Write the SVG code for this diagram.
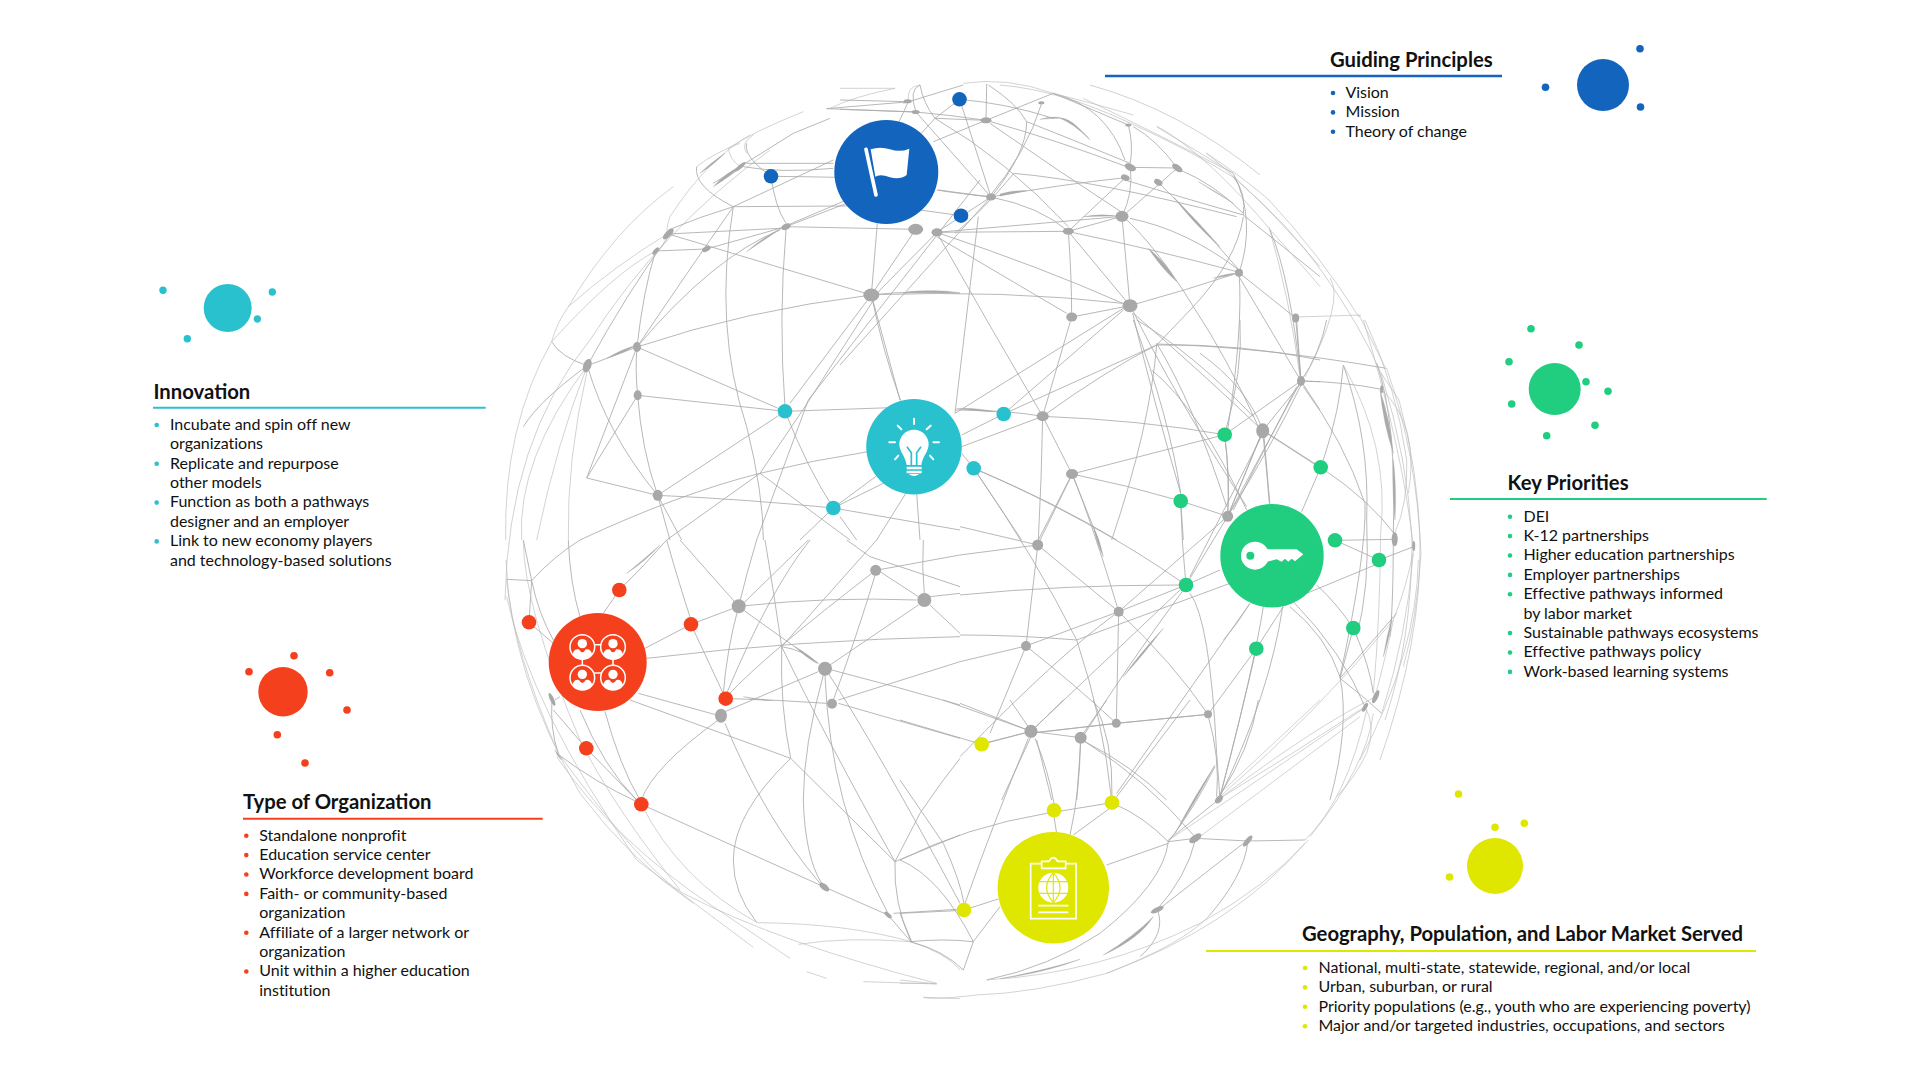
<svg xmlns="http://www.w3.org/2000/svg" width="1920" height="1080" viewBox="0 0 1920 1080">
<style>
text{font-family:"Lato","Liberation Sans",sans-serif;fill:#111}
.h{font-size:20.3px;font-weight:700}
.b{font-size:16px;letter-spacing:-.03px}
#connectors path{fill:none;stroke:#aaa;stroke-width:2.5}
#connectors path.o{stroke:#bdbdbd;stroke-width:2}
#connectors path.s{fill:#aaa;stroke:#aaa;stroke-width:1}
#connectors #outer path{stroke:#bdbdbd;stroke-width:.7}
.g{fill:#a8a8a8}
.ic{fill:#fff}
.is{fill:none;stroke:#fff;stroke-linecap:round}
.blue{fill:#1264bd}.teal{fill:#2ac1cf}.green{fill:#21ce80}.red{fill:#f4401d}.yellow{fill:#dfe600}
.rb{stroke:#1264bd}.rt{stroke:#2ac1cf}.rg{stroke:#21ce80}.rr{stroke:#f4401d}.ry{stroke:#dfe600}
</style>
<rect width="1920" height="1080" fill="#fff"/>
<g id="connectors">
<g id="outer">
<path d="M1000 85Q1060 90 1130 123Q1190 150 1233 177Q1290 225 1323 273Q1360 325 1381 373L1399 400"/><path d="M1157 127L1233 173"/><path d="M1206 153Q1240 175 1269 200Q1320 255 1359 317"/><path d="M1359 315L1385 367"/><path d="M1296 317L1361 315"/><path d="M1330 278Q1345 300 1305 377"/><path d="M1269 227Q1290 300 1300 377"/><path d="M1399 400Q1418 470 1420 540Q1422 640 1380 760"/><path d="M1381 373Q1408 460 1412 540Q1412 640 1385 720"/><path d="M1090 85Q1180 110 1260 175"/>
<path d="M505 600Q508 440 590 340Q660 230 770 150"/>
</g>
<g transform="translate(480 60) scale(.33333)">
<path d="M1174 705Q800 750 471 861L322 917"/><path d="M1174 705Q1300 690 1440 700"/><path d="M565 522L1174 705"/><path d="M918 500L1307 508"/><path d="M679 567L918 500"/><path d="M527 573L679 567"/><path d="M918 500L1100 430"/><path d="M1174 705L1307 508"/><path d="M1174 705L1192 490"/><path d="M1174 705L930 1030"/><path d="M1371 517L1200 690L975 1040L840 1240L560 1440"/><path d="M840 1240L1110 1440"/><path d="M1500 360L985 1020L830 1440"/><path d="M918 510Q895 780 915 1040"/><path d="M471 861L915 1054"/><path d="M473 1006L915 1054"/><path d="M915 1054L1260 1042"/><path d="M1174 705Q1210 880 1262 1022"/><path d="M915 1054Q985 1230 1060 1344"/><path d="M915 1054L533 1306"/><path d="M533 1306Q800 1318 1060 1344"/><path d="M473 1006L320 1254L533 1306"/><path d="M320 1254L471 861"/><path d="M473 1006Q485 1170 533 1306L570 1440"/><path d="M322 917Q380 1120 533 1306L605 1440"/><path d="M471 861Q465 930 473 1006"/><path d="M471 861Q490 690 527 573"/><path d="M471 861Q700 590 900 510"/><path d="M471 861Q620 640 760 440L1060 300"/><path d="M322 917Q440 700 565 530"/><path d="M760 440Q700 800 800 1100Q850 1300 850 1440"/><path d="M565 510Q660 470 760 440L1100 438"/><path d="M650 320Q640 380 760 440"/><path d="M800 250Q790 290 873 349Q885 440 918 490"/><path d="M873 349Q980 350 1070 352"/><path d="M1165 1175Q1000 1200 840 1240Q600 1300 300 1440"/><path d="M1060 1344L1200 1240"/><path d="M1060 1344L1220 1265"/><path d="M1060 1344L960 1440"/><path d="M1290 1280L1190 1440"/><path d="M1310 1300L1320 1440"/><path d="M1060 1344L1440 1410"/><path d="M1080 1370L1130 1440"/><path d="M322 917Q180 1020 130 1100"/><path d="M215 845Q240 890 322 917"/>
<path d="M565 522L900 505L1100 420"/><path d="M800 310L1060 310"/><path d="M790 320Q900 340 1060 325"/><path d="M700 370L940 220L1050 175"/><path d="M1040 146L1290 125"/><path d="M1040 146L1307 156"/>
<path class="o" d="M1245 85Q1120 110 1050 145"/><path class="o" d="M970 155Q820 215 745 265"/><path class="o" d="M820 225Q780 250 800 280"/><path class="o" d="M745 265Q750 300 781 320"/><path class="o" d="M650 320Q700 280 780 250"/><path class="o" d="M580 380Q400 510 265 740Q230 790 215 845"/><path class="o" d="M810 225Q680 300 570 470Q555 510 565 530"/><path class="o" d="M77 1440Q70 1100 215 845"/><path class="o" d="M125 1440Q110 1200 322 917"/><path class="o" d="M170 1440Q230 1150 322 917"/><path class="o" d="M265 1440Q260 1200 322 930"/><path class="o" d="M1320 75Q1280 80 1285 120"/><path class="o" d="M215 845Q400 640 527 573"/><path class="o" d="M265 740Q400 620 565 520"/>
<path class="s" d="M800 575Q850 530 905 505Q860 535 800 575Z"/><path class="s" d="M700 380Q740 335 790 315Q750 350 700 380Z"/><path class="s" d="M380 895Q420 870 470 855Q430 880 380 895Z"/><path class="s" d="M660 340Q690 310 735 280Q700 315 660 340Z"/><path class="s" d="M1270 700Q1360 685 1440 698Q1360 695 1270 700Z"/>
</g>
<g transform="translate(840 60) scale(.33333)">
<path d="M94 704Q500 690 848 730"/><path d="M290 517Q600 620 848 730"/><path d="M290 530L680 760"/><path d="M695 771L870 737"/><path d="M695 771L608 1069"/><path d="M850 750L491 1062L365 1125"/><path d="M345 1060L850 745"/><path d="M491 1062L950 855"/><path d="M950 855Q1200 850 1440 900"/><path d="M950 855Q800 930 608 1069L365 1160"/><path d="M870 737Q1040 690 1197 638"/><path d="M1210 470Q1190 600 1060 740L950 855Q930 1100 815 1440"/><path d="M1197 638Q1210 800 1163 1110"/><path d="M1197 638L1367 774L1383 963"/><path d="M1197 650L1383 963"/><path d="M880 760Q1100 950 1268 1112"/><path d="M880 755Q1000 1000 1220 1340"/><path d="M878 760Q940 1020 1022 1300"/><path d="M846 469L870 737"/><path d="M453 411Q600 440 685 514"/><path d="M685 514L846 469"/><path d="M685 514L856 353"/><path d="M685 514Q695 650 695 771"/><path d="M685 514L870 737"/><path d="M290 517L685 514"/><path d="M290 517L846 469"/><path d="M453 411Q650 375 856 353"/><path d="M359 118L453 411"/><path d="M295 390L453 411"/><path d="M453 411L290 517"/><path d="M240 450L363 467"/><path d="M453 411L0 915"/><path d="M438 181L280 245"/><path d="M359 118L285 175L180 290"/><path d="M240 75Q250 130 285 175Q500 300 685 500"/><path d="M228 156L453 411"/><path d="M450 190Q650 330 850 460"/><path d="M438 181Q650 240 860 320"/><path d="M445 75Q530 130 560 185Q560 280 453 411"/><path d="M605 130Q560 280 440 420"/><path d="M520 340Q760 360 1190 470"/><path d="M640 100Q800 140 855 300"/><path d="M871 322L1012 324"/><path d="M1012 324L860 458"/><path d="M871 322Q880 400 846 469"/><path d="M865 195Q880 250 871 310"/><path d="M1012 324Q950 240 880 200"/><path d="M1180 340Q1250 480 1197 640"/><path d="M1180 350Q1220 400 1210 465"/><path d="M855 360Q1050 420 1210 465"/><path d="M870 475Q1040 510 1197 630"/><path d="M700 518Q950 570 1190 635"/><path d="M955 367Q1060 470 1197 630"/><path d="M850 470Q950 560 1060 740Q1160 890 1260 1110"/><path d="M1020 330Q1120 370 1210 460"/><path d="M1210 465Q1330 560 1440 650"/><path d="M1290 510Q1350 650 1383 963"/><path d="M1383 963L1154 1124"/><path d="M1383 963L1440 965"/><path d="M1383 963L1440 1050"/><path d="M1383 975Q1300 1150 1163 1369"/><path d="M1268 1112L1163 1369"/><path d="M1268 1112Q1280 1230 1288 1330"/><path d="M1268 1112L1438 1222"/><path d="M608 1069Q900 1080 1154 1124"/><path d="M608 1069L696 1242"/><path d="M608 1069Q605 1250 595 1440"/><path d="M696 1242L595 1440"/><path d="M696 1242Q740 1350 775 1440"/><path d="M696 1242Q860 1275 1022 1323"/><path d="M696 1242L1154 1124"/><path d="M1154 1124Q1170 1250 1163 1369"/><path d="M1022 1323L1163 1369"/><path d="M1022 1323L1030 1440"/><path d="M290 517Q450 800 608 1069"/><path d="M94 704L180 1020"/><path d="M415 470L345 1060"/><path d="M345 1050Q500 1050 608 1069"/><path d="M401 1225L365 1180"/><path d="M401 1225Q650 1330 830 1440"/><path d="M401 1225L545 1440"/>
<path d="M0 120L205 125"/><path d="M0 148L228 156"/><path d="M190 130L370 75"/><path d="M228 156Q205 90 240 75"/><path d="M205 125L175 190"/><path d="M228 156Q330 165 438 181"/><path d="M438 181L640 100"/><path d="M359 118Q500 130 640 175"/><path d="M640 100Q760 150 865 195"/><path d="M560 185Q700 240 870 310"/><path d="M438 181Q440 90 440 72"/><path d="M438 181L285 175"/><path d="M290 390Q350 400 453 411"/><path d="M520 342Q430 450 345 520"/>
<path class="o" d="M370 70Q500 50 640 100Q760 130 880 165"/><path class="o" d="M950 198Q1100 280 1300 520Q1390 620 1440 680"/><path class="o" d="M730 115Q950 220 1180 340"/><path class="o" d="M1100 280Q1250 400 1440 620"/><path class="o" d="M0 85L165 85"/>
<path class="s" d="M480 402Q520 390 560 392Q520 400 480 408Z"/><path class="s" d="M600 178Q660 160 700 190Q740 225 750 240Q700 190 660 175Q630 175 600 178Z"/><path class="s" d="M1075 365Q1130 395 1180 430Q1130 400 1075 365Z"/><path class="s" d="M1000 410Q1070 480 1140 560Q1060 490 1000 410Z"/><path class="s" d="M925 565Q980 610 1010 665Q965 625 925 565Z"/><path class="s" d="M200 696Q270 688 330 698Q270 696 200 696Z"/><path class="s" d="M350 1046Q400 1042 470 1056Q410 1053 350 1046Z"/><path class="s" d="M1120 655Q1160 640 1190 640Q1160 650 1120 655Z"/><path class="s" d="M730 470Q780 460 830 468Q780 468 730 470Z"/>
</g>
<g transform="translate(960 320) scale(.33333)">
<path d="M337 462L233 675"/><path d="M41 444Q400 600 678 795"/><path d="M41 444Q230 720 350 960Q430 1200 455 1440"/><path d="M337 462Q400 620 476 875"/><path d="M233 675L476 875"/><path d="M233 680L198 978"/><path d="M0 620L233 675"/><path d="M0 705L233 675"/><path d="M0 825Q300 795 660 795"/><path d="M198 978L476 875L678 795"/><path d="M0 945Q170 945 350 960L810 790"/><path d="M198 978Q340 1090 469 1210"/><path d="M476 875L469 1210"/><path d="M476 875Q640 1030 744 1183"/><path d="M198 978L90 1240"/><path d="M198 978L0 1025"/><path d="M213 1234L362 1253"/><path d="M230 1238L469 1210L744 1183"/><path d="M213 1234L64 1272"/><path d="M213 1234L0 1150"/><path d="M213 1234L660 810"/><path d="M0 1310Q300 1000 476 875"/><path d="M375 1240Q500 1040 670 810"/><path d="M362 1270L350 1440"/><path d="M375 1265Q520 1340 620 1440"/><path d="M213 1250L125 1440"/><path d="M230 1260L275 1440"/><path d="M678 795L803 589"/><path d="M662 543Q665 670 678 795"/><path d="M803 589L476 875"/><path d="M794 344Q810 470 803 589"/><path d="M803 589L909 331"/><path d="M803 589L1023 183"/><path d="M912 350L930 555"/><path d="M1082 442L1025 575"/><path d="M909 331L1082 442"/><path d="M1082 442Q1230 540 1310 650"/><path d="M1125 661L1304 658"/><path d="M1125 661L1257 720"/><path d="M1257 720L1361 680"/><path d="M1040 820L1257 730"/><path d="M678 795L780 750"/><path d="M690 770L909 340"/><path d="M690 820Q750 900 770 1300L780 1435"/><path d="M870 850L470 1420"/><path d="M889 986L970 860"/><path d="M889 986L744 1183"/><path d="M889 986Q840 1200 780 1430"/><path d="M910 860Q880 1050 780 1430"/><path d="M968 860Q930 1120 780 1430"/><path d="M1000 845Q1150 1000 1215 1160"/><path d="M990 860Q1100 950 1140 1070Q1170 1220 1110 1440"/><path d="M1070 795Q1130 850 1180 924"/><path d="M1180 924L1140 1075"/><path d="M1180 924Q1230 1040 1240 1120"/><path d="M1023 183Q1150 185 1265 208"/><path d="M1023 190L909 331"/><path d="M1010 200L820 570"/><path d="M1030 200Q1150 360 1215 550Q1220 700 1140 1070"/><path d="M1150 135Q1140 270 1090 420"/><path d="M1150 135Q1230 360 1220 600Q1230 800 1190 950"/><path d="M794 344Q850 150 840 0"/><path d="M1023 183L1010 0"/><path d="M1023 183Q1080 100 1100 0"/><path d="M909 331Q860 200 720 100"/><path d="M880 290Q700 100 530 0"/><path d="M575 150Q720 270 860 570"/><path d="M590 70Q700 250 800 560"/><path d="M520 0Q630 300 662 520"/><path d="M1140 1075L1310 880"/><path d="M1140 1075Q1200 1120 1265 1180"/><path d="M590 72Q900 80 1280 145"/><path d="M1250 130Q1310 300 1300 640Q1300 850 1290 950"/>
<path class="o" d="M780 1435Q1000 1300 1215 1160"/><path class="o" d="M780 1435Q1050 1230 1247 1130"/><path class="o" d="M780 1430Q1080 1170 1300 900Q1340 800 1361 690"/><path class="o" d="M1360 680Q1330 400 1210 0"/><path class="o" d="M1360 700Q1340 950 1265 1180"/><path class="o" d="M1375 720Q1370 1000 1200 1320"/><path class="o" d="M1300 900Q1280 1000 1245 1130"/><path class="o" d="M1215 0Q1310 200 1340 420Q1345 550 1304 640"/><path class="o" d="M1280 145Q1370 400 1383 700Q1370 900 1330 1040"/><path class="o" d="M1150 135Q1290 380 1262 640Q1260 900 1240 1120"/><path class="o" d="M1265 208Q1380 320 1345 520"/><path class="o" d="M1215 1160Q1250 1220 1220 1300Q1180 1380 1130 1430"/>
<path class="s" d="M1260 210Q1290 300 1300 400Q1270 310 1260 210Z"/><path class="s" d="M1296 890Q1290 950 1270 1010Q1280 950 1296 890Z"/><path class="s" d="M400 620Q420 660 430 710Q410 670 400 620Z"/><path class="s" d="M490 1070Q540 1000 610 925Q550 1005 490 1070Z"/><path class="s" d="M790 960Q840 900 870 850Q835 910 790 960Z"/><path class="s" d="M1300 420Q1310 500 1305 600Q1295 500 1300 420Z"/>
</g>
<g transform="translate(480 540) scale(.33333)">
<path d="M560 0Q490 80 418 150L370 220"/><path d="M80 118L155 122"/><path d="M155 122Q220 50 300 0"/><path d="M155 122L130 0"/><path d="M155 122L147 247L220 310"/><path d="M155 122Q175 220 220 300"/><path d="M265 0Q270 130 300 230"/><path d="M633 253L495 325"/><path d="M633 253L776 199"/><path d="M633 253L737 476"/><path d="M560 0Q600 140 633 240"/><path d="M776 199L600 0"/><path d="M776 199Q800 100 830 0"/><path d="M985 0L790 190"/><path d="M776 199Q740 330 730 460"/><path d="M990 0Q870 150 740 460"/><path d="M790 210Q900 290 1015 370"/><path d="M796 197Q1050 170 1310 180"/><path d="M500 355Q950 300 1440 290"/><path d="M757 476Q900 480 1040 490"/><path d="M745 465Q850 350 1187 91"/><path d="M735 515L1015 395"/><path d="M475 460L710 525"/><path d="M450 480L932 655"/><path d="M715 540Q520 680 484 780"/><path d="M735 550Q850 830 1020 1030"/><path d="M932 655Q760 820 760 960Q760 1060 830 1147"/><path d="M932 655L1245 965"/><path d="M905 320Q900 500 932 655"/><path d="M855 0Q880 150 905 320"/><path d="M1030 405Q970 620 970 780Q975 950 1025 1030"/><path d="M1035 405Q1050 800 1224 1120"/><path d="M905 320Q1040 600 1245 965"/><path d="M1045 400Q1200 640 1440 1090"/><path d="M1056 491Q1130 290 1187 100"/><path d="M1050 375L1315 195"/><path d="M1055 390Q1250 440 1440 495"/><path d="M1075 490L1440 595"/><path d="M1075 480L1440 365"/><path d="M905 320Q970 330 1015 370"/><path d="M1187 91L1440 45"/><path d="M1200 95L1315 170"/><path d="M1350 170L1440 160"/><path d="M1350 195L1440 280"/><path d="M1330 0Q1325 80 1333 160"/><path d="M1190 0L905 320"/><path d="M1100 0L1170 50L1440 140"/><path d="M1245 965L1440 885"/><path d="M1245 965Q1240 1090 1293 1205"/><path d="M1245 965L1320 820Q1380 730 1440 655"/><path d="M1033 1041L1224 1125"/><path d="M1033 1041L484 793"/><path d="M1240 1120L1430 1108"/><path d="M1224 1125L1293 1205"/><path d="M220 510L319 625L470 780"/><path d="M300 510Q370 680 470 780"/><path d="M375 515Q420 680 480 780"/><path d="M230 640Q350 730 470 785"/><path d="M225 480L240 470"/><path d="M216 478Q210 570 235 640"/>
<path class="o" d="M80 120Q100 330 235 640"/><path class="o" d="M484 793Q600 1020 830 1147"/><path class="o" d="M830 1148Q1100 1150 1293 1205Q1400 1240 1440 1290"/><path class="o" d="M955 1213Q1100 1190 1293 1205"/><path class="o" d="M235 640Q500 1000 610 1060Q900 1210 1370 1330"/><path class="o" d="M230 650Q400 900 700 1100L930 1255"/><path class="o" d="M80 170Q150 500 470 960L820 1222"/><path class="o" d="M78 60Q90 400 300 760Q450 960 640 1090"/><path class="o" d="M130 0Q130 200 300 600Q400 800 600 1050"/><path class="o" d="M980 1295L1040 1315"/><path class="o" d="M1150 1325L1370 1332"/><path class="o" d="M1330 1372L1440 1376"/>
<path class="s" d="M945 320Q990 345 1010 370Q975 350 945 320Z"/><path class="s" d="M440 100Q490 60 540 15Q495 65 440 100Z"/><path class="s" d="M225 630Q240 650 245 660Q232 650 225 630Z"/><path class="s" d="M790 470Q830 476 880 482Q830 482 790 470Z"/>
</g>
<g transform="translate(900 700) scale(.33333)">
<path d="M0 60L245 133L394 94"/><path d="M394 94L130 0"/><path d="M394 94L330 0"/><path d="M394 94L490 0"/><path d="M410 97L649 70L925 43"/><path d="M541 113L620 0"/><path d="M405 115Q445 210 462 310"/><path d="M385 115Q280 370 195 610"/><path d="M541 130Q540 270 510 405"/><path d="M555 125Q740 240 880 405"/><path d="M580 0Q640 120 636 290"/><path d="M650 290L870 0"/><path d="M0 480Q200 380 440 340L636 308"/><path d="M636 320L520 405"/><path d="M650 315Q730 350 805 425"/><path d="M805 425L886 415L1043 423L1215 420"/><path d="M945 200Q880 330 805 425Q790 550 600 700Q450 800 260 840"/><path d="M620 495L805 430"/><path d="M886 420Q860 530 770 630"/><path d="M1043 430Q1030 530 925 650"/><path d="M1043 420L780 625"/><path d="M772 629Q800 700 720 770"/><path d="M957 298L805 420"/><path d="M925 50Q960 170 950 290"/><path d="M957 290Q1050 150 1075 0"/><path d="M0 640L170 632"/><path d="M192 630L295 597"/><path d="M0 240L130 430Q180 540 192 610"/><path d="M0 480Q120 530 220 725"/><path d="M220 725L300 620"/><path d="M30 725Q130 715 220 725"/><path d="M30 725Q130 750 190 810"/><path d="M190 810L220 725"/><path d="M0 640L35 725"/><path d="M462 350L470 400"/>
<path class="o" d="M925 650Q850 730 620 820"/><path class="o" d="M1215 420Q1340 300 1400 30"/><path class="o" d="M800 425L1400 20"/><path class="o" d="M886 420L1380 50"/><path class="o" d="M1225 420Q1100 560 900 670Q600 820 260 840"/><path class="o" d="M1215 430Q1000 680 620 820Q400 880 230 885"/><path class="o" d="M1230 410Q1400 200 1420 40"/><path class="o" d="M230 885Q100 900 70 892"/><path class="o" d="M0 840L110 852"/><path class="o" d="M0 850L110 850"/><path class="o" d="M960 280L1260 0"/>
<path class="s" d="M945 195Q890 300 825 400Q880 295 945 195Z"/><path class="s" d="M760 650Q720 715 610 765Q700 710 760 650Z"/><path class="s" d="M300 836Q430 812 540 778Q430 820 300 836Z"/>
</g>
</g>
<g id="gray-nodes" class="g">
<ellipse cx="871.3" cy="295" rx="8" ry="6.5"/><ellipse cx="915.7" cy="229.3" rx="7.5" ry="5.5"/><ellipse cx="937" cy="232.3" rx="5.5" ry="4"/><ellipse cx="786" cy="226.7" rx="5" ry="3" transform="rotate(-25 786 226.7)"/><ellipse cx="706.3" cy="249" rx="4.5" ry="2.5" transform="rotate(-25 706.3 249)"/><ellipse cx="668.3" cy="234" rx="7" ry="3" transform="rotate(-45 668.3 234)"/><ellipse cx="655.7" cy="251" rx="4.5" ry="2" transform="rotate(-50 655.7 251)"/><ellipse cx="740.3" cy="166.7" rx="7" ry="2" transform="rotate(-40 740.3 166.7)"/><ellipse cx="907.7" cy="101.3" rx="4" ry="2"/><ellipse cx="915.7" cy="112" rx="4" ry="2"/><ellipse cx="637" cy="347" rx="4" ry="5"/><ellipse cx="587.3" cy="365.7" rx="4" ry="7" transform="rotate(20 587.3 365.7)"/><ellipse cx="637.7" cy="395.3" rx="4" ry="5"/><ellipse cx="657.7" cy="495.3" rx="5" ry="5.5"/>
<ellipse cx="986" cy="120.3" rx="5.5" ry="3"/><ellipse cx="991" cy="197" rx="5" ry="3.5"/><ellipse cx="1068.3" cy="231.3" rx="5.5" ry="3.5"/><ellipse cx="1122" cy="216.3" rx="6.5" ry="5.5"/><ellipse cx="1130.3" cy="167.3" rx="6" ry="3.5" transform="rotate(25 1130.3 167.3)"/><ellipse cx="1125.3" cy="177.7" rx="4.5" ry="3" transform="rotate(20 1125.3 177.7)"/><ellipse cx="1158.3" cy="182.3" rx="4.5" ry="3" transform="rotate(30 1158.3 182.3)"/><ellipse cx="1177.3" cy="168" rx="6" ry="3" transform="rotate(35 1177.3 168)"/><ellipse cx="1041.3" cy="102.7" rx="3" ry="1.5"/><ellipse cx="1128.3" cy="125" rx="3" ry="1.5"/><circle cx="1239" cy="272.7" r="4"/><ellipse cx="1295.7" cy="318" rx="3.5" ry="4.5"/><ellipse cx="1130" cy="305.7" rx="7.5" ry="6.5"/><ellipse cx="1071.7" cy="317" rx="5.5" ry="4.5"/><ellipse cx="1042.7" cy="416.3" rx="6" ry="5"/><ellipse cx="1072" cy="474" rx="6" ry="5"/><ellipse cx="1301" cy="381" rx="4" ry="5"/><ellipse cx="1262.7" cy="430.7" rx="6.5" ry="7.5"/><circle cx="1227.7" cy="516.3" r="5.5"/>
<circle cx="1037.7" cy="545" r="5.5"/><circle cx="1118.7" cy="611.7" r="5"/><circle cx="1026" cy="646" r="5"/><circle cx="1031" cy="731.3" r="6.5"/><circle cx="1080.7" cy="737.7" r="6"/><circle cx="1116.3" cy="723.3" r="4.5"/><circle cx="1208" cy="714.3" r="4"/><ellipse cx="1394.7" cy="539.3" rx="3" ry="7"/><ellipse cx="1413.7" cy="546" rx="1.5" ry="5"/><ellipse cx="1375.7" cy="696.7" rx="2.5" ry="7" transform="rotate(25 1375.7 696.7)"/><ellipse cx="1365" cy="707.3" rx="2" ry="5" transform="rotate(30 1365 707.3)"/><ellipse cx="1381.7" cy="389.3" rx="1.5" ry="4"/>
<circle cx="738.7" cy="606.3" r="7"/><circle cx="825" cy="668.7" r="7"/><circle cx="875.7" cy="570.3" r="5.5"/><circle cx="924.3" cy="600" r="7"/><circle cx="832" cy="703.7" r="5"/><ellipse cx="721" cy="715.7" rx="6" ry="7"/><ellipse cx="552" cy="699.3" rx="2" ry="7" transform="rotate(-25 552 699.3)"/><ellipse cx="824.3" cy="887" rx="6" ry="3" transform="rotate(40 824.3 887)"/><ellipse cx="888" cy="915" rx="4.5" ry="2" transform="rotate(40 888 915)"/>
<ellipse cx="1219" cy="799.3" rx="5" ry="3" transform="rotate(-45 1219 799.3)"/><ellipse cx="1195.3" cy="838.3" rx="7" ry="3.5" transform="rotate(-35 1195.3 838.3)"/><ellipse cx="1247.7" cy="841" rx="7" ry="2.5" transform="rotate(-50 1247.7 841)"/><ellipse cx="1157.3" cy="909.7" rx="7" ry="2.5" transform="rotate(-25 1157.3 909.7)"/>
</g>
<g id="dots-blue" class="blue"><circle cx="771" cy="176.3" r="7.3"/><circle cx="959.5" cy="99.3" r="7.3"/><circle cx="961" cy="215.7" r="7.3"/></g>
<g id="dots-teal" class="teal"><circle cx="785" cy="411.3" r="7.3"/><circle cx="833.3" cy="508" r="7.3"/><circle cx="1003.7" cy="414" r="7.3"/><circle cx="973.7" cy="468.3" r="7.3"/></g>
<g id="dots-green" class="green"><circle cx="1224.7" cy="434.7" r="7.3"/><circle cx="1320.7" cy="467.3" r="7.3"/><circle cx="1180.7" cy="501" r="7.3"/><circle cx="1335" cy="540.3" r="7.3"/><circle cx="1379" cy="560" r="7.3"/><circle cx="1186" cy="585" r="7.3"/><circle cx="1353.3" cy="628" r="7.3"/><circle cx="1256.3" cy="648.7" r="7.3"/></g>
<g id="dots-red" class="red"><circle cx="619.3" cy="590" r="7.3"/><circle cx="529" cy="622.3" r="7.3"/><circle cx="691" cy="624.3" r="7.3"/><circle cx="725.7" cy="698.7" r="7.3"/><circle cx="586.3" cy="748.3" r="7.3"/><circle cx="641.3" cy="804.3" r="7.3"/></g>
<g id="dots-yellow" class="yellow"><circle cx="981.7" cy="744.3" r="7.3"/><circle cx="1054" cy="810.3" r="7.3"/><circle cx="1112" cy="802.7" r="7.3"/><circle cx="964" cy="910" r="7.3"/></g>
<g id="node-flag">
<circle class="blue" cx="886.3" cy="172" r="52"/>
<g transform="translate(480 60) scale(.33333)"><path d="M1158 268L1188 405" class="is" stroke-width="11"/><path class="ic" d="M1172 268Q1200 258 1230 268Q1260 278 1288 266L1280 345Q1260 360 1230 352Q1200 340 1186 350Z"/></g>
</g>
<g id="node-bulb">
<circle class="teal" cx="914" cy="446.7" r="47.8"/>
<g transform="translate(480 60) scale(.33333)"><path class="ic" d="M1302 1109C1276 1109 1258 1130 1258 1153C1258 1175 1276 1188 1280 1215L1324 1215C1328 1188 1346 1175 1346 1153C1346 1130 1328 1109 1302 1109Z"/><path d="M1281 1160L1294 1178V1215M1323 1160L1310 1178V1215" fill="none" stroke="#2ac1cf" stroke-width="5"/><path class="ic" d="M1280 1220H1325V1228H1280ZM1280 1232H1325V1240H1280ZM1286 1242H1318Q1310 1248 1302 1248Q1294 1248 1286 1242Z"/><path class="is" stroke-width="6" d="M1302 1076V1092M1253 1097L1264 1108M1352 1097L1340 1108M1228 1147H1245M1360 1147H1377M1245 1198L1255 1187M1360 1198L1350 1187"/></g>
</g>
<g id="node-key">
<circle class="green" cx="1272" cy="555.7" r="51.7"/>
<g transform="translate(960 320) scale(.33333)"><circle class="ic" cx="885" cy="707" r="42"/><path class="ic" d="M920 688H1010L1030 703L1005 724L995 716L985 725L975 716L965 725L950 718L920 725Z"/><circle class="green" cx="871" cy="707" r="12"/></g>
</g>
<g id="node-org">
<circle class="red" cx="597.7" cy="662" r="49"/>
<g transform="translate(480 540) scale(.33333)">
<g id="p"><circle cx="307" cy="321" r="37" fill="none" stroke="#fff" stroke-width="4.5"/><circle class="ic" cx="307" cy="311" r="14"/><path class="ic" d="M277 343Q282 325 297 328Q307 346 317 328Q332 325 337 343A37 37 0 0 1 277 343Z"/></g>
<use href="#p" x="92"/><use href="#p" y="92"/><use href="#p" x="92" y="92"/>
<path class="is" stroke-width="4.5" d="M344 314H362M344 399H362M307 358V376M399 358V376"/>
</g>
</g>
<g id="node-geo">
<circle class="yellow" cx="1053.3" cy="887.7" r="55.7"/>
<g transform="translate(900 700) scale(.33333)" fill="none" stroke="#fff" stroke-width="5">
<path d="M425 491H392V656H528V491H497"/><path d="M425 505V484H447Q460 462 473 484H497V505Z"/>
<circle cx="460" cy="563" r="45" fill="#fff" stroke="none"/>
<path d="M415 545H505M415 580H505M460 518V608M460 518Q420 563 460 608M460 518Q500 563 460 608" stroke="#dfe600" stroke-width="3.5"/>
<path d="M415 617H505M415 637H505"/></g>
</g>
<g id="guiding-principles">
<circle class="blue" cx="1603" cy="85" r="26"/><g class="blue"><circle cx="1640" cy="48.7" r="3.8"/><circle cx="1545.5" cy="87.3" r="3.8"/><circle cx="1640.5" cy="107" r="3.8"/></g>
<text class="h" x="1330" y="66.6">Guiding Principles</text><path d="M1105 76H1502" class="rb" stroke-width="2.3"/>
<g class="blue"><circle cx="1333" cy="93" r="2.3"/><circle cx="1333" cy="112.4" r="2.3"/><circle cx="1333" cy="131.8" r="2.3"/></g>
<text class="b" x="1345.5" y="97.8">Vision</text><text class="b" x="1345.5" y="117.2">Mission</text><text class="b" x="1345.5" y="136.6">Theory of change</text>
</g>
<g id="innovation">
<circle class="teal" cx="227.7" cy="308" r="24"/><g class="teal"><circle cx="163" cy="290.3" r="3.7"/><circle cx="272.3" cy="292" r="3.7"/><circle cx="257.3" cy="319" r="3.7"/><circle cx="187.3" cy="338.7" r="3.7"/></g>
<text class="h" x="153.5" y="399">Innovation</text><path d="M153 407.7H485.7" class="rt" stroke-width="2"/>
<g class="teal"><circle cx="156.7" cy="425" r="2.3"/><circle cx="156.7" cy="463.8" r="2.3"/><circle cx="156.7" cy="502.6" r="2.3"/><circle cx="156.7" cy="541.4" r="2.3"/></g>
<text class="b" x="170" y="429.8">Incubate and spin off new</text><text class="b" x="170" y="449.2">organizations</text><text class="b" x="170" y="468.6">Replicate and repurpose</text><text class="b" x="170" y="488">other models</text><text class="b" x="170" y="507.4">Function as both a pathways</text><text class="b" x="170" y="526.8">designer and an employer</text><text class="b" x="170" y="546.2">Link to new economy players</text><text class="b" x="170" y="565.6">and technology-based solutions</text>
</g>
<g id="type-of-organization">
<circle class="red" cx="283" cy="691.7" r="24.7"/><g class="red"><circle cx="294" cy="655.7" r="3.8"/><circle cx="249" cy="671.7" r="3.8"/><circle cx="329.7" cy="672.7" r="3.8"/><circle cx="347" cy="710" r="3.8"/><circle cx="277.3" cy="734.7" r="3.8"/><circle cx="305" cy="763" r="3.8"/></g>
<text class="h" x="243" y="809">Type of Organization</text><path d="M243 818.7H542.7" class="rr" stroke-width="2"/>
<g class="red"><circle cx="246.3" cy="835.7" r="2.3"/><circle cx="246.3" cy="855.1" r="2.3"/><circle cx="246.3" cy="874.5" r="2.3"/><circle cx="246.3" cy="893.9" r="2.3"/><circle cx="246.3" cy="932.7" r="2.3"/><circle cx="246.3" cy="971.5" r="2.3"/></g>
<text class="b" x="259.3" y="840.5">Standalone nonprofit</text><text class="b" x="259.3" y="859.9">Education service center</text><text class="b" x="259.3" y="879.3">Workforce development board</text><text class="b" x="259.3" y="898.7">Faith- or community-based</text><text class="b" x="259.3" y="918.1">organization</text><text class="b" x="259.3" y="937.5">Affiliate of a larger network or</text><text class="b" x="259.3" y="956.9">organization</text><text class="b" x="259.3" y="976.3">Unit within a higher education</text><text class="b" x="259.3" y="995.7">institution</text>
</g>
<g id="key-priorities">
<circle class="green" cx="1554.7" cy="389" r="26"/><g class="green"><circle cx="1531" cy="328.7" r="3.8"/><circle cx="1579" cy="345" r="3.8"/><circle cx="1509" cy="361.7" r="3.8"/><circle cx="1586" cy="381.7" r="3.8"/><circle cx="1608" cy="391.3" r="3.8"/><circle cx="1511.7" cy="404" r="3.8"/><circle cx="1595" cy="425.3" r="3.8"/><circle cx="1546.7" cy="435.7" r="3.8"/></g>
<text class="h" x="1507.5" y="490">Key Priorities</text><path d="M1450 499H1766.7" class="rg" stroke-width="2"/>
<g class="green"><circle cx="1510" cy="516.7" r="2.3"/><circle cx="1510" cy="536.1" r="2.3"/><circle cx="1510" cy="555.5" r="2.3"/><circle cx="1510" cy="574.9" r="2.3"/><circle cx="1510" cy="594.3" r="2.3"/><circle cx="1510" cy="633.1" r="2.3"/><circle cx="1510" cy="652.5" r="2.3"/><circle cx="1510" cy="671.9" r="2.3"/></g>
<text class="b" x="1523.5" y="521.5">DEI</text><text class="b" x="1523.5" y="540.9">K-12 partnerships</text><text class="b" x="1523.5" y="560.3">Higher education partnerships</text><text class="b" x="1523.5" y="579.7">Employer partnerships</text><text class="b" x="1523.5" y="599.1">Effective pathways informed</text><text class="b" x="1523.5" y="618.5">by labor market</text><text class="b" x="1523.5" y="637.9">Sustainable pathways ecosystems</text><text class="b" x="1523.5" y="657.3">Effective pathways policy</text><text class="b" x="1523.5" y="676.7">Work-based learning systems</text>
</g>
<g id="geography">
<circle class="yellow" cx="1495" cy="866" r="28"/><g class="yellow"><circle cx="1458.5" cy="794" r="3.8"/><circle cx="1495" cy="827.3" r="3.8"/><circle cx="1524.3" cy="823.3" r="3.8"/><circle cx="1449.5" cy="877" r="3.8"/></g>
<text class="h" x="1302" y="941" textLength="441">Geography, Population, and Labor Market Served</text><path d="M1206 951H1756" class="ry" stroke-width="2"/>
<g class="yellow"><circle cx="1305" cy="968" r="2.3"/><circle cx="1305" cy="987.4" r="2.3"/><circle cx="1305" cy="1006.8" r="2.3"/><circle cx="1305" cy="1026.2" r="2.3"/></g>
<text class="b" x="1318.5" y="972.8">National, multi-state, statewide, regional, and/or local</text><text class="b" x="1318.5" y="992.2">Urban, suburban, or rural</text><text class="b" x="1318.5" y="1011.6">Priority populations (e.g., youth who are experiencing poverty)</text><text class="b" x="1318.5" y="1031">Major and/or targeted industries, occupations, and sectors</text>
</g>
</svg>
